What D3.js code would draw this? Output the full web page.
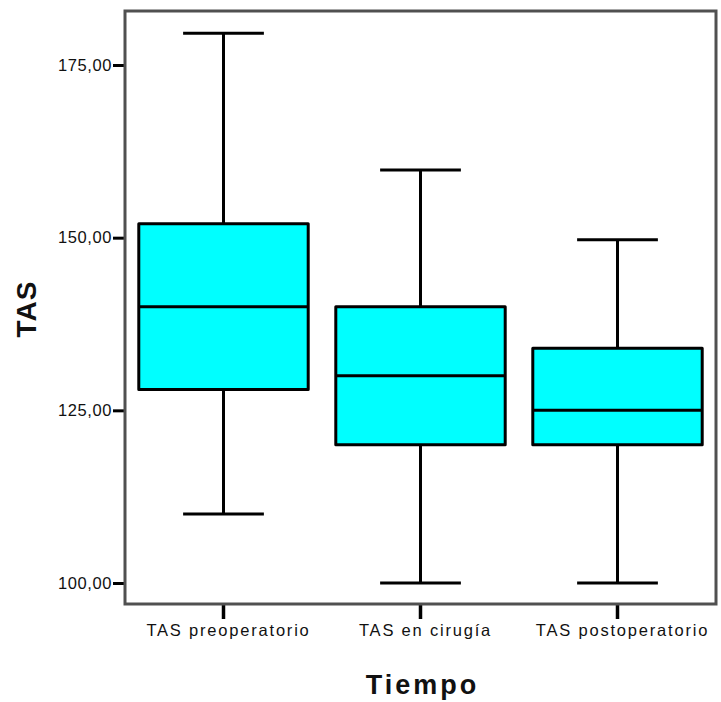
<!DOCTYPE html>
<html lang="es">
<head>
<meta charset="utf-8"/>
<style>
body { margin: 0; background: #fff; }
svg { font-family: "Liberation Sans", Arial, sans-serif; }
.axis .domain { display: none; }
</style>
</head>
<body>
<svg width="721" height="702"></svg>
<script src="https://d3js.org/d3.v7.min.js"></script>
<script>

// box plot values
var categories = ["TAS preoperatorio", "TAS en cirugía", "TAS postoperatorio"];
var minVals    = [110, 100, 100];
var q1Vals     = [128, 120, 120];
var medianVals = [140, 130, 125];
var q3Vals     = [152, 140, 134];
var maxVals    = [179.6, 159.8, 149.7];
var yTicks     = [100, 125, 150, 175];

var data = categories.map(function(c, i) {
  return {name: c, min: minVals[i], q1: q1Vals[i], median: medianVals[i], q3: q3Vals[i], max: maxVals[i]};
});

var svg = d3.select("svg"),
    plotLeft = 125, plotRight = 716, plotTop = 11, plotBottom = 604;

var x = d3.scaleBand()
    .domain(categories)
    .range([plotLeft, plotRight])
    .padding(0);

var y = d3.scaleLinear()
    .domain([96.96, 182.82])
    .range([plotBottom, plotTop]);

var boxW = x.bandwidth() * 0.86,
    capW = x.bandwidth() * 0.41;

// y axis
var yAxis = svg.append("g")
    .attr("class", "axis")
    .attr("transform", "translate(" + plotLeft + ",0)")
    .call(d3.axisLeft(y).tickValues(yTicks).tickSize(12).tickPadding(1)
      .tickFormat(function(d) { return d.toFixed(2).replace(".", ","); }));
yAxis.selectAll("line").attr("stroke", "#000").attr("stroke-width", 3);
yAxis.selectAll("text")
    .attr("fill", "#111")
    .attr("font-size", 16.5)
    .attr("letter-spacing", 0.6);

// x axis
var xAxis = svg.append("g")
    .attr("class", "axis")
    .attr("transform", "translate(0," + plotBottom + ")")
    .call(d3.axisBottom(x).tickSize(15).tickPadding(5));
xAxis.selectAll("line").attr("stroke", "#000").attr("stroke-width", 3.5);
xAxis.selectAll("text")
    .attr("fill", "#111")
    .attr("font-size", 16.5)
    .attr("letter-spacing", 1.8)
    .attr("dx", 5);

// frame
svg.append("rect")
    .attr("x", plotLeft)
    .attr("y", plotTop)
    .attr("width", plotRight - plotLeft)
    .attr("height", plotBottom - plotTop)
    .attr("fill", "none")
    .attr("stroke", "#505050")
    .attr("stroke-width", 3);

var boxes = svg.append("g")
  .selectAll("g")
  .data(data)
  .enter().append("g")
    .attr("stroke", "#000")
    .attr("stroke-width", 3);

function cx(d) { return x(d.name) + x.bandwidth() / 2; }

// whiskers
boxes.append("line")
    .attr("x1", cx).attr("x2", cx)
    .attr("y1", function(d) { return y(d.max); })
    .attr("y2", function(d) { return y(d.q3); });
boxes.append("line")
    .attr("x1", cx).attr("x2", cx)
    .attr("y1", function(d) { return y(d.q1); })
    .attr("y2", function(d) { return y(d.min); });
boxes.append("line")
    .attr("x1", function(d) { return cx(d) - capW / 2; })
    .attr("x2", function(d) { return cx(d) + capW / 2; })
    .attr("y1", function(d) { return y(d.max); })
    .attr("y2", function(d) { return y(d.max); });
boxes.append("line")
    .attr("x1", function(d) { return cx(d) - capW / 2; })
    .attr("x2", function(d) { return cx(d) + capW / 2; })
    .attr("y1", function(d) { return y(d.min); })
    .attr("y2", function(d) { return y(d.min); });

// boxes
boxes.append("rect")
    .attr("x", function(d) { return cx(d) - boxW / 2; })
    .attr("y", function(d) { return y(d.q3); })
    .attr("width", boxW)
    .attr("height", function(d) { return y(d.q1) - y(d.q3); })
    .attr("fill", "#00ffff")
    .attr("stroke-linejoin", "round");

// medians
boxes.append("line")
    .attr("x1", function(d) { return cx(d) - boxW / 2; })
    .attr("x2", function(d) { return cx(d) + boxW / 2; })
    .attr("y1", function(d) { return y(d.median); })
    .attr("y2", function(d) { return y(d.median); });

// axis titles
svg.append("text")
    .attr("transform", "translate(36,309) rotate(-90)")
    .attr("text-anchor", "middle")
    .attr("font-size", 28)
    .attr("font-weight", "bold")
    .attr("letter-spacing", 1)
    .attr("fill", "#111")
    .text("TAS");

svg.append("text")
    .attr("x", (plotLeft + plotRight) / 2 + 2)
    .attr("y", 694)
    .attr("text-anchor", "middle")
    .attr("font-size", 27)
    .attr("font-weight", "bold")
    .attr("letter-spacing", 3)
    .attr("fill", "#111")
    .text("Tiempo");

</script>
</body>
</html>
